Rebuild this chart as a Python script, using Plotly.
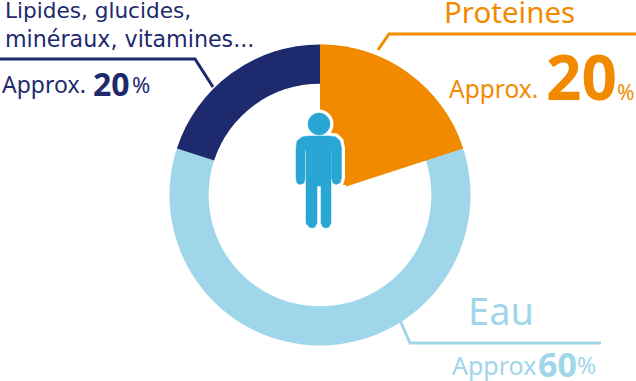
import plotly.graph_objects as go

W, H = 636, 381
categories = ["Proteines", "Eau", "Lipides, glucides, minéraux, vitamines..."]
values = [20, 60, 20]
colors = ["#F28A00", "#9FD6EA", "#1D2A6D"]
wedge_values = [20, 80]

def px(x): return x / W
def py(y): return 1 - y / H

fig = go.Figure()
dom = dict(x=[169.5 / W, 470.5 / W], y=[1 - 345.5 / H, 1 - 44.5 / H])
fig.add_trace(go.Pie(values=values, labels=categories, hole=0.74, sort=False,
                     direction="clockwise", rotation=0, domain=dom,
                     marker=dict(colors=colors, line=dict(width=0)),
                     textinfo="none", showlegend=False, hoverinfo="label+percent"))
fig.add_trace(go.Pie(values=wedge_values, labels=["Proteines", ""], hole=0, sort=False,
                     direction="clockwise", rotation=0, domain=dom,
                     marker=dict(colors=[colors[0], "rgba(0,0,0,0)"], line=dict(width=0)),
                     textinfo="none", showlegend=False, hoverinfo="skip"))

def leader(points, color, w=3):
    d = "M" + " L".join(f"{px(x):.5f},{py(y):.5f}" for x, y in points)
    return dict(type="path", path=d, xref="paper", yref="paper",
                line=dict(color=color, width=w), layer="above")

shapes = [
    leader([(0, 59), (195, 59), (213, 87)], colors[2]),
    leader([(636, 34), (389, 34), (378, 50)], colors[0]),
    leader([(601, 343), (410, 343), (399, 318)], colors[1]),
    # white halo that trims the wedge tip below the figure's arm
    dict(type="rect", xref="paper", yref="paper", x0=px(320), x1=px(346), y0=py(200), y1=py(185),
         fillcolor="white", line=dict(width=0), layer="above"),
]

# Person figure (icon), built from a body outline and a head
body_pts = [(296, 148), (297, 141), (302, 137), (308, 136), (330, 136), (336, 137), (340, 141), (341.5, 148),
            (341.5, 178), (340, 183), (336, 184.5), (333, 183), (331.5, 178), (331.5, 150), (331, 150),
            (331, 223), (329, 227), (326, 228), (323, 227), (321, 223), (321, 186), (317, 186),
            (317, 223), (315, 227), (312, 228), (309, 227), (306, 223), (306, 150), (305, 150),
            (305, 178), (304, 183), (300, 184.5), (297, 183), (296, 178)]
body = "M" + " L".join(f"{px(x):.5f},{py(y):.5f}" for x, y in body_pts) + " Z"
hx, hy, hr = 319, 124, 11
person_color = "#29A6D3"
for lw, col in [(7, "white"), (0.5, person_color)]:
    shapes.append(dict(type="circle", xref="paper", yref="paper",
                       x0=px(hx - hr), x1=px(hx + hr), y0=py(hy + hr), y1=py(hy - hr),
                       fillcolor=person_color, line=dict(color=col, width=lw), layer="above"))
    shapes.append(dict(type="path", path=body, xref="paper", yref="paper",
                       fillcolor=person_color, line=dict(color=col, width=lw), layer="above"))

def txt(x, y, s, size, color, family="DejaVu Sans", anchor="left"):
    return dict(x=px(x), y=py(y), xref="paper", yref="paper", text=s, showarrow=False,
                font=dict(size=size, color=color, family=family),
                xanchor=anchor, yanchor="middle", align=anchor, xshift=-1)

navy, orange, blue = colors[2], colors[0], colors[1]
annots = [
    txt(4, 11, "Lipides, glucides,", 21.6, navy),
    txt(4, 39, "minéraux, vitamines...", 22.2, navy),
    txt(1, 84, "Approx.", 23, navy, "Noto Sans"),
    txt(92, 83, "<b>20</b>", 32, navy, "Noto Sans"),
    txt(131, 84, "%", 22, navy, "Noto Sans"),
    txt(443, 12, "Proteines", 29.5, orange, "Noto Sans"),
    txt(448, 89, "Approx.", 24.5, orange, "Noto Sans"),
    txt(545, 76, "<b>20</b>", 62, orange, "Noto Sans"),
    txt(616, 92, "%", 21, orange, "Noto Sans"),
    txt(467, 310, "Eau", 38, blue, "Noto Sans"),
    txt(451, 365, "Approx", 25, blue, "Noto Sans"),
    txt(537, 364, "<b>60</b>", 34, blue, "Noto Sans"),
    txt(576, 365, "%", 23, blue, "Noto Sans"),
]

fig.update_layout(width=W, height=H, margin=dict(l=0, r=0, t=0, b=0),
                  paper_bgcolor="white", plot_bgcolor="white",
                  shapes=shapes, annotations=annots, showlegend=False)
fig.write_html("out.html", config={"displayModeBar": False},
               post_script="document.body.style.margin='0';document.body.style.overflow='hidden';")
